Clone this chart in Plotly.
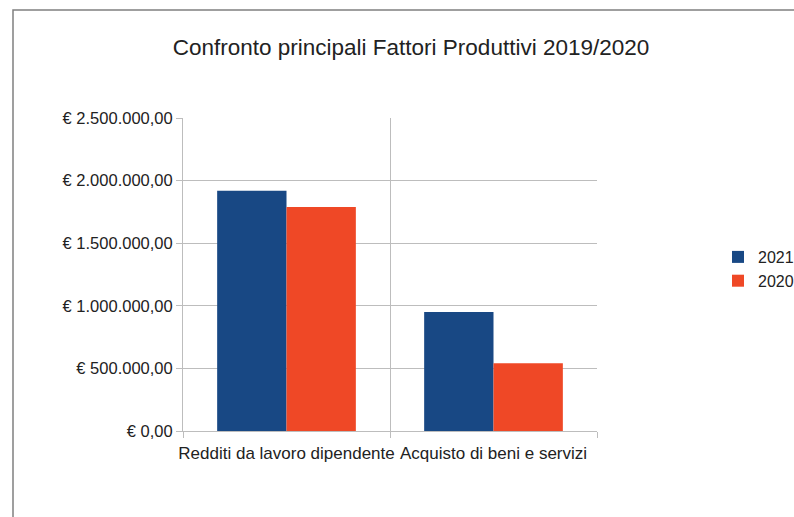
import plotly.graph_objects as go

categories = ["Redditi da lavoro dipendente", "Acquisto di beni e servizi"]
series_names = ["2021", "2020"]
values_2021 = [1918000, 950000]
values_2020 = [1790000, 541000]
colors = ["#184884", "#ef4826"]
title_text = "Confronto principali Fattori Produttivi 2019/2020"

W, H = 794, 517
L, R, T, B = 183, 597, 118, 431

fig = go.Figure()
for name, vals, c in zip(series_names, [values_2021, values_2020], colors):
    fig.add_trace(go.Bar(x=categories, y=vals, name=name, marker=dict(color=c, line=dict(width=0))))

pw, ph = R - L, B - T
def px_x(p):
    return (p - L) / pw
def px_y(p):
    return (B - p) / ph

fig.add_shape(type="rect", xref="paper", yref="paper",
              x0=px_x(13), x1=px_x(830), y0=px_y(560), y1=px_y(10),
              line=dict(color="#808080", width=1.5), fillcolor="rgba(0,0,0,0)", layer="below")

font = "Liberation Sans, Arial, sans-serif"
grid = "#bdbdbd"
fig.update_layout(
    width=W, height=H,
    margin=dict(l=L, r=W - R, t=T, b=H - B, pad=0, autoexpand=False),
    paper_bgcolor="white", plot_bgcolor="white",
    separators=",.",
    barmode="group", bargap=0.33, bargroupgap=0,
    title=dict(text=title_text, xref="container", yref="container",
               x=411 / W, y=1 - 47 / H, xanchor="center", yanchor="middle",
               font=dict(family=font, size=22.5, color="#222222")),
    font=dict(family=font, size=16, color="#222222"),
    legend=dict(xref="container", yref="container", x=718 / W, y=1 - 240 / H,
                xanchor="left", yanchor="top", font=dict(size=16, color="#222222"),
                bgcolor="rgba(0,0,0,0)", itemwidth=30, tracegroupgap=0),
    xaxis=dict(type="category", tickson="boundaries", showgrid=True, gridcolor=grid,
               gridwidth=1, ticks="outside", ticklen=6, tickcolor=grid,
               showline=True, linecolor=grid, tickfont=dict(size=17, color="#222222"),
               zeroline=False, tickangle=0, automargin=False, ticklabelstandoff=7),
    yaxis=dict(range=[0, 2500000], dtick=500000, tick0=0, tickprefix="€ ", tickformat=",.2f",
               showgrid=True, gridcolor=grid, gridwidth=1, ticks="outside", ticklen=6,
               tickcolor=grid, showline=True, linecolor=grid,
               tickfont=dict(size=16.5, color="#222222"), zeroline=False, automargin=False),
    showlegend=True,
)

fig.write_html(
    "out.html",
    config={"displayModeBar": False},
    post_script="document.body.style.margin='0';document.body.style.padding='0';"
                "document.body.style.overflow='hidden';document.documentElement.style.overflow='hidden';",
)
